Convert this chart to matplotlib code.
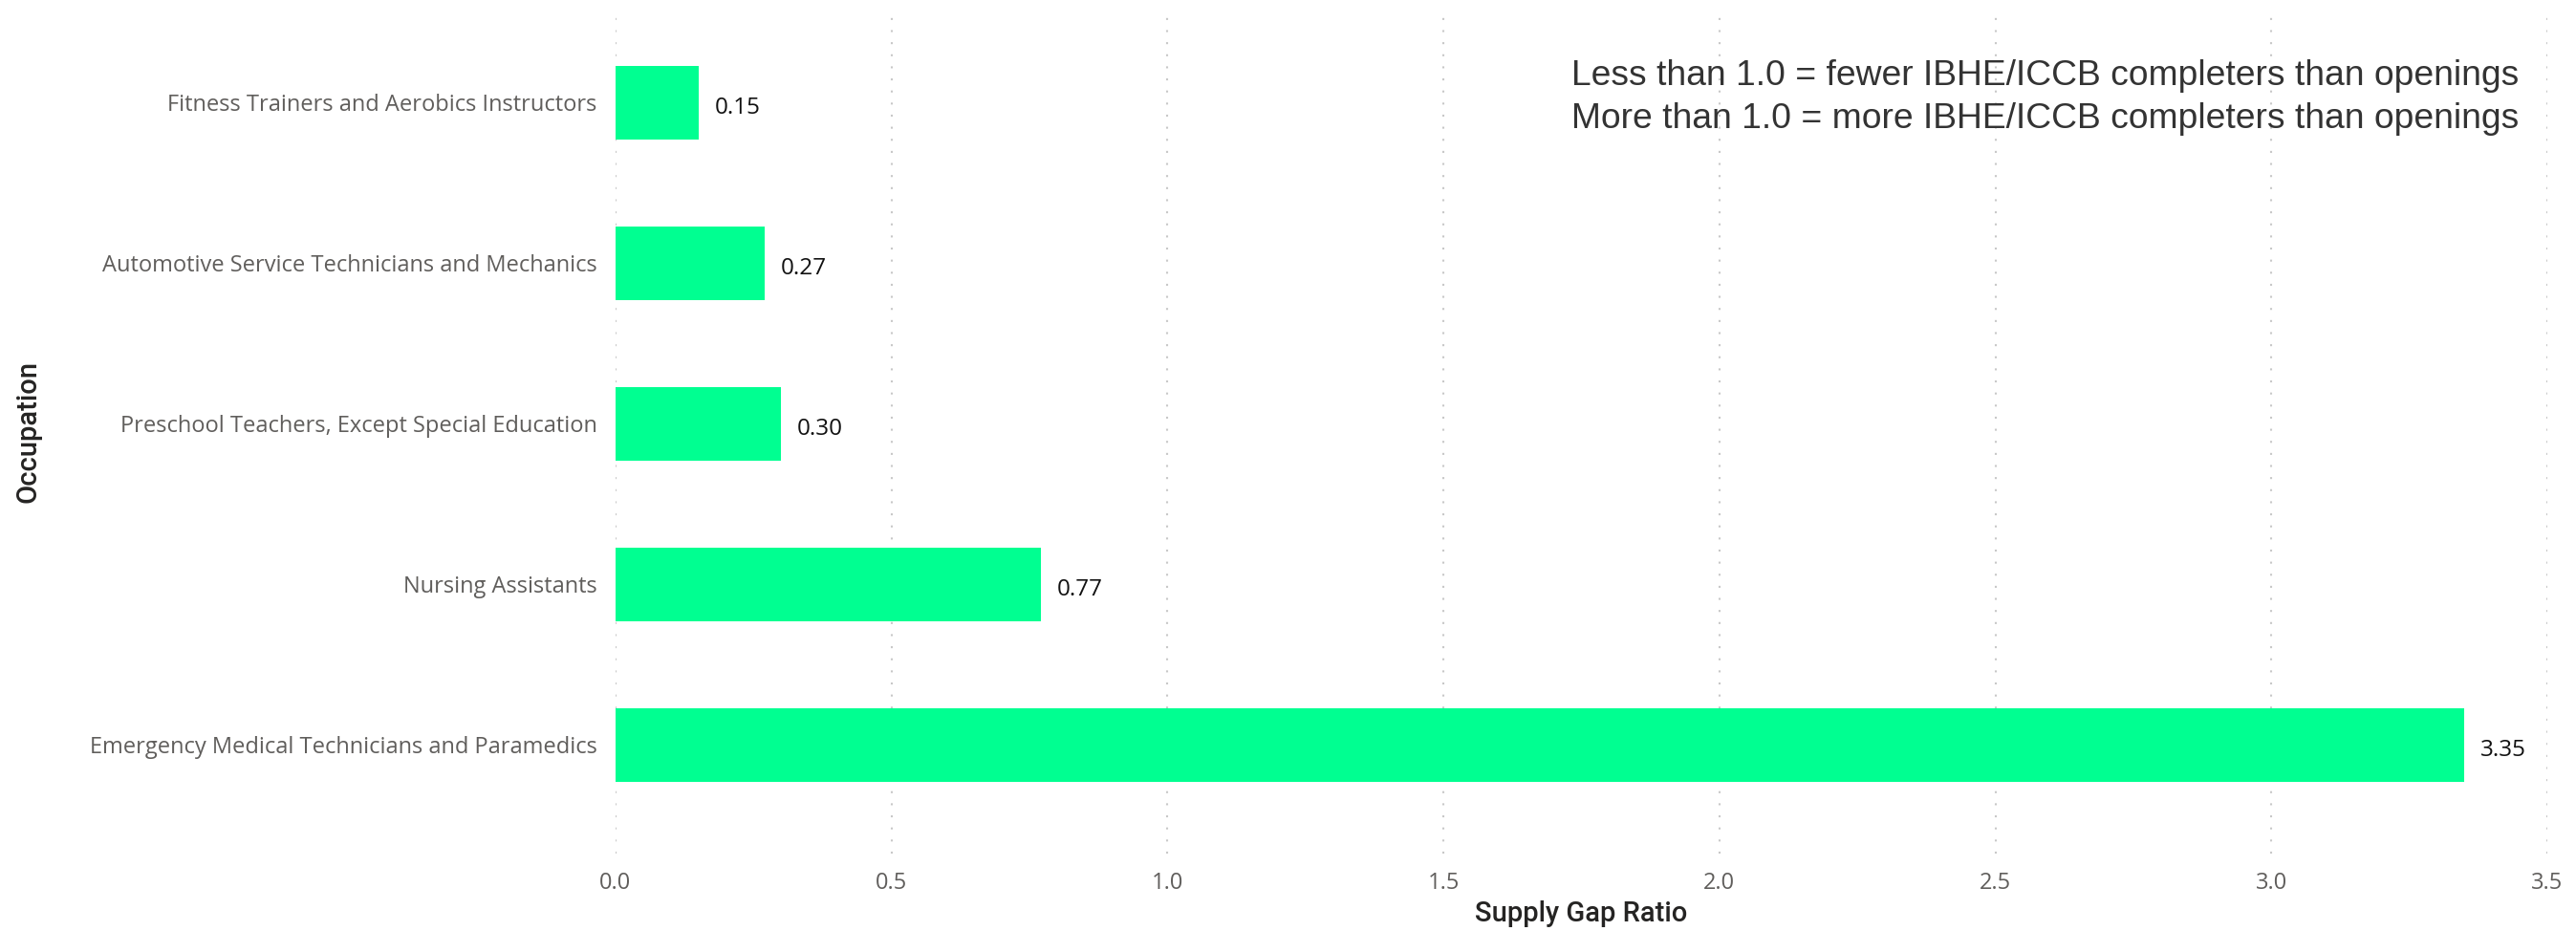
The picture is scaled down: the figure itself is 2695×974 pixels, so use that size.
import matplotlib
matplotlib.use("Agg")
import matplotlib.pyplot as plt

occupations = [
    "Emergency Medical Technicians and Paramedics",
    "Nursing Assistants",
    "Preschool Teachers, Except Special Education",
    "Automotive Service Technicians and Mechanics",
    "Fitness Trainers and Aerobics Instructors",
]
ratios = [3.35, 0.77, 0.30, 0.27, 0.15]
xticks = [0.0, 0.5, 1.0, 1.5, 2.0, 2.5, 3.0, 3.5]
note_lines = [
    "Less than 1.0 = fewer IBHE/ICCB completers than openings",
    "More than 1.0 = more IBHE/ICCB completers than openings",
]

plt.rcParams['lines.scale_dashes'] = False
fig = plt.figure(figsize=(26.95, 9.74), dpi=100)
ax = fig.add_axes([644/2695, 1-893/974, (2665-644)/2695, (893-11)/974])

ypos = list(range(len(occupations)))
bars = ax.barh(ypos, ratios, height=0.46, color="#00FF91", zorder=2)
for b, v in zip(bars, ratios):
    ax.annotate(f"{v:.2f}", (b.get_width(), b.get_y() + b.get_height()/2),
                xytext=(12, -2), textcoords="offset points", va="center_baseline", ha="left",
                fontsize=17.5, color="#111111", family="Open Sans")

ax.set_xlim(0, 3.5)
ax.set_ylim(-0.676, 4.574)
ax.set_xticks(xticks)
ax.set_xticklabels([f"{t:.1f}" for t in xticks], family="Open Sans", fontsize=17, color="#605E5C")
ax.set_yticks(ypos)
ax.set_yticklabels(occupations, family="Open Sans", fontsize=17, color="#605E5C",
                   va="center_baseline")
ax.tick_params(axis="both", length=0)
ax.tick_params(axis="x", pad=14)
ax.tick_params(axis="y", pad=14)
for s in ax.spines.values():
    s.set_visible(False)
ax.xaxis.grid(True, color="#C8C8C8", linewidth=1.5, linestyle=(0, (1.5, 7.6)), zorder=0)
ax.set_axisbelow(True)

ax.set_xlabel("Supply Gap Ratio", family="Roboto", fontweight="medium", fontsize=21,
              color="#252423", labelpad=4)
ax.set_ylabel("Occupation", family="Roboto", fontweight="medium", fontsize=21,
              color="#252423", labelpad=36)

fig.text(2635/2695, 1-102/974, note_lines[0] + "\n" + note_lines[1], ha="right", va="center",
         family="Liberation Sans", fontsize=26.8, color="#333333", linespacing=1.38,
         multialignment="left")

fig.savefig("out.png", dpi=100, facecolor="white")
